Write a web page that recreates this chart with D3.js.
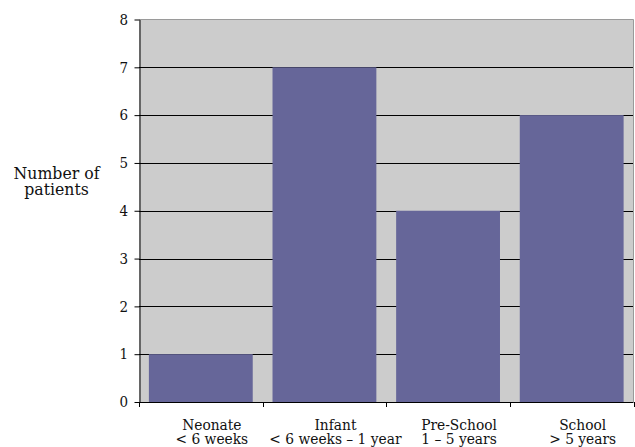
<!DOCTYPE html>
<html>
<head>
<meta charset="utf-8">
<script src="https://cdn.jsdelivr.net/npm/d3@7/dist/d3.min.js"></script>
<style>
  html, body { margin: 0; padding: 0; background: #ffffff; }
  svg { display: block; }
</style>
</head>
<body>
<svg id="chart" width="635" height="447"></svg>
<script>
const categories = ["Neonate", "Infant", "Pre-School", "School"];
const subLabels = ["< 6 weeks", "< 6 weeks \u2013 1 year", "1 \u2013 5 years", "> 5 years"];
const values = [1, 7, 4, 6];
const yTicks = [0, 1, 2, 3, 4, 5, 6, 7, 8];
const yTitle = ["Number of", "patients"];

(function () {
const svg = d3.select("#chart");
const pLeft = 139, pRight = 633.5, pTop = 19.5, pBottom = 402;
const FONT = "DejaVu Serif";
const SX = 0.91;   // horizontal condensing so DejaVu Serif matches Times proportions
const SXL = 0.89;

const x = d3.scaleBand().domain(categories).range([pLeft, pRight]).paddingInner(0.16).paddingOuter(0.08);
const xStep = d3.scaleBand().domain(categories).range([pLeft, pRight]).padding(0);
const y = d3.scaleLinear().domain([0, 8]).range([pBottom, pTop]);

svg.append("rect").attr("x", pLeft).attr("y", pTop).attr("width", pRight - pLeft).attr("height", pBottom - pTop)
  .attr("fill", "#cccccc");

svg.append("g").selectAll("line").data(yTicks.filter(d => d > 0 && d < 8)).join("line")
  .attr("x1", pLeft).attr("x2", pRight)
  .attr("y1", d => Math.round(y(d)) + 0.5).attr("y2", d => Math.round(y(d)) + 0.5)
  .attr("stroke", "#000").attr("stroke-width", 1);

svg.append("line").attr("x1", pLeft).attr("x2", pRight).attr("y1", pTop).attr("y2", pTop).attr("stroke", "#9a9a9a");
svg.append("line").attr("x1", pRight).attr("x2", pRight).attr("y1", pTop).attr("y2", pBottom).attr("stroke", "#9a9a9a");

svg.append("g").selectAll("rect").data(values).join("rect")
  .attr("x", (d, i) => x(categories[i]))
  .attr("width", x.bandwidth())
  .attr("y", d => y(d))
  .attr("height", d => pBottom - y(d))
  .attr("fill", "#666699");

const yAxis = svg.append("g").attr("transform", `translate(${pLeft + 0.5},0)`)
  .call(d3.axisLeft(y).tickValues(yTicks).tickSize(5).tickSizeOuter(0).tickFormat(d3.format("d")));
yAxis.attr("font-family", FONT);
yAxis.select(".domain").attr("stroke", "#000");
yAxis.selectAll(".tick line").attr("stroke", "#000");
yAxis.selectAll(".tick text").attr("font-size", 14.8).attr("x", -11.5 / SX)
  .attr("transform", `scale(${SX},1)`)
  .attr("font-family", FONT).attr("fill", "#111");

const bounds = categories.map(c => xStep(c)).concat([pRight]);
const xg = svg.append("g");
xg.append("line").attr("x1", pLeft).attr("x2", pRight).attr("y1", pBottom + 0.5).attr("y2", pBottom + 0.5).attr("stroke", "#000");
xg.selectAll("line.t").data(bounds).join("line").attr("class", "t")
  .attr("x1", d => Math.round(d) + 0.5).attr("x2", d => Math.round(d) + 0.5)
  .attr("y1", pBottom).attr("y2", pBottom + 5).attr("stroke", "#000");

categories.forEach((c, i) => {
  const cx = x(c) + x.bandwidth() / 2 + 11;
  const g = svg.append("g").attr("transform", `translate(${cx},0) scale(${SXL},1)`);
  const t = g.append("text").attr("text-anchor", "middle").attr("font-size", 15.5)
    .attr("font-family", FONT).attr("fill", "#111");
  t.append("tspan").attr("x", 0).attr("y", 430).text(c);
  t.append("tspan").attr("x", 0).attr("y", 444.5).text(subLabels[i]);
});

const tg = svg.append("g").attr("transform", `translate(56.5,0) scale(${SX},1)`);
const yt = tg.append("text").attr("text-anchor", "middle").attr("font-size", 17.3)
  .attr("font-family", FONT).attr("fill", "#111");
yTitle.forEach((s, i) => yt.append("tspan").attr("x", 0).attr("y", 179.5 + i * 15.5).text(s));
})();
</script>
</body>
</html>
